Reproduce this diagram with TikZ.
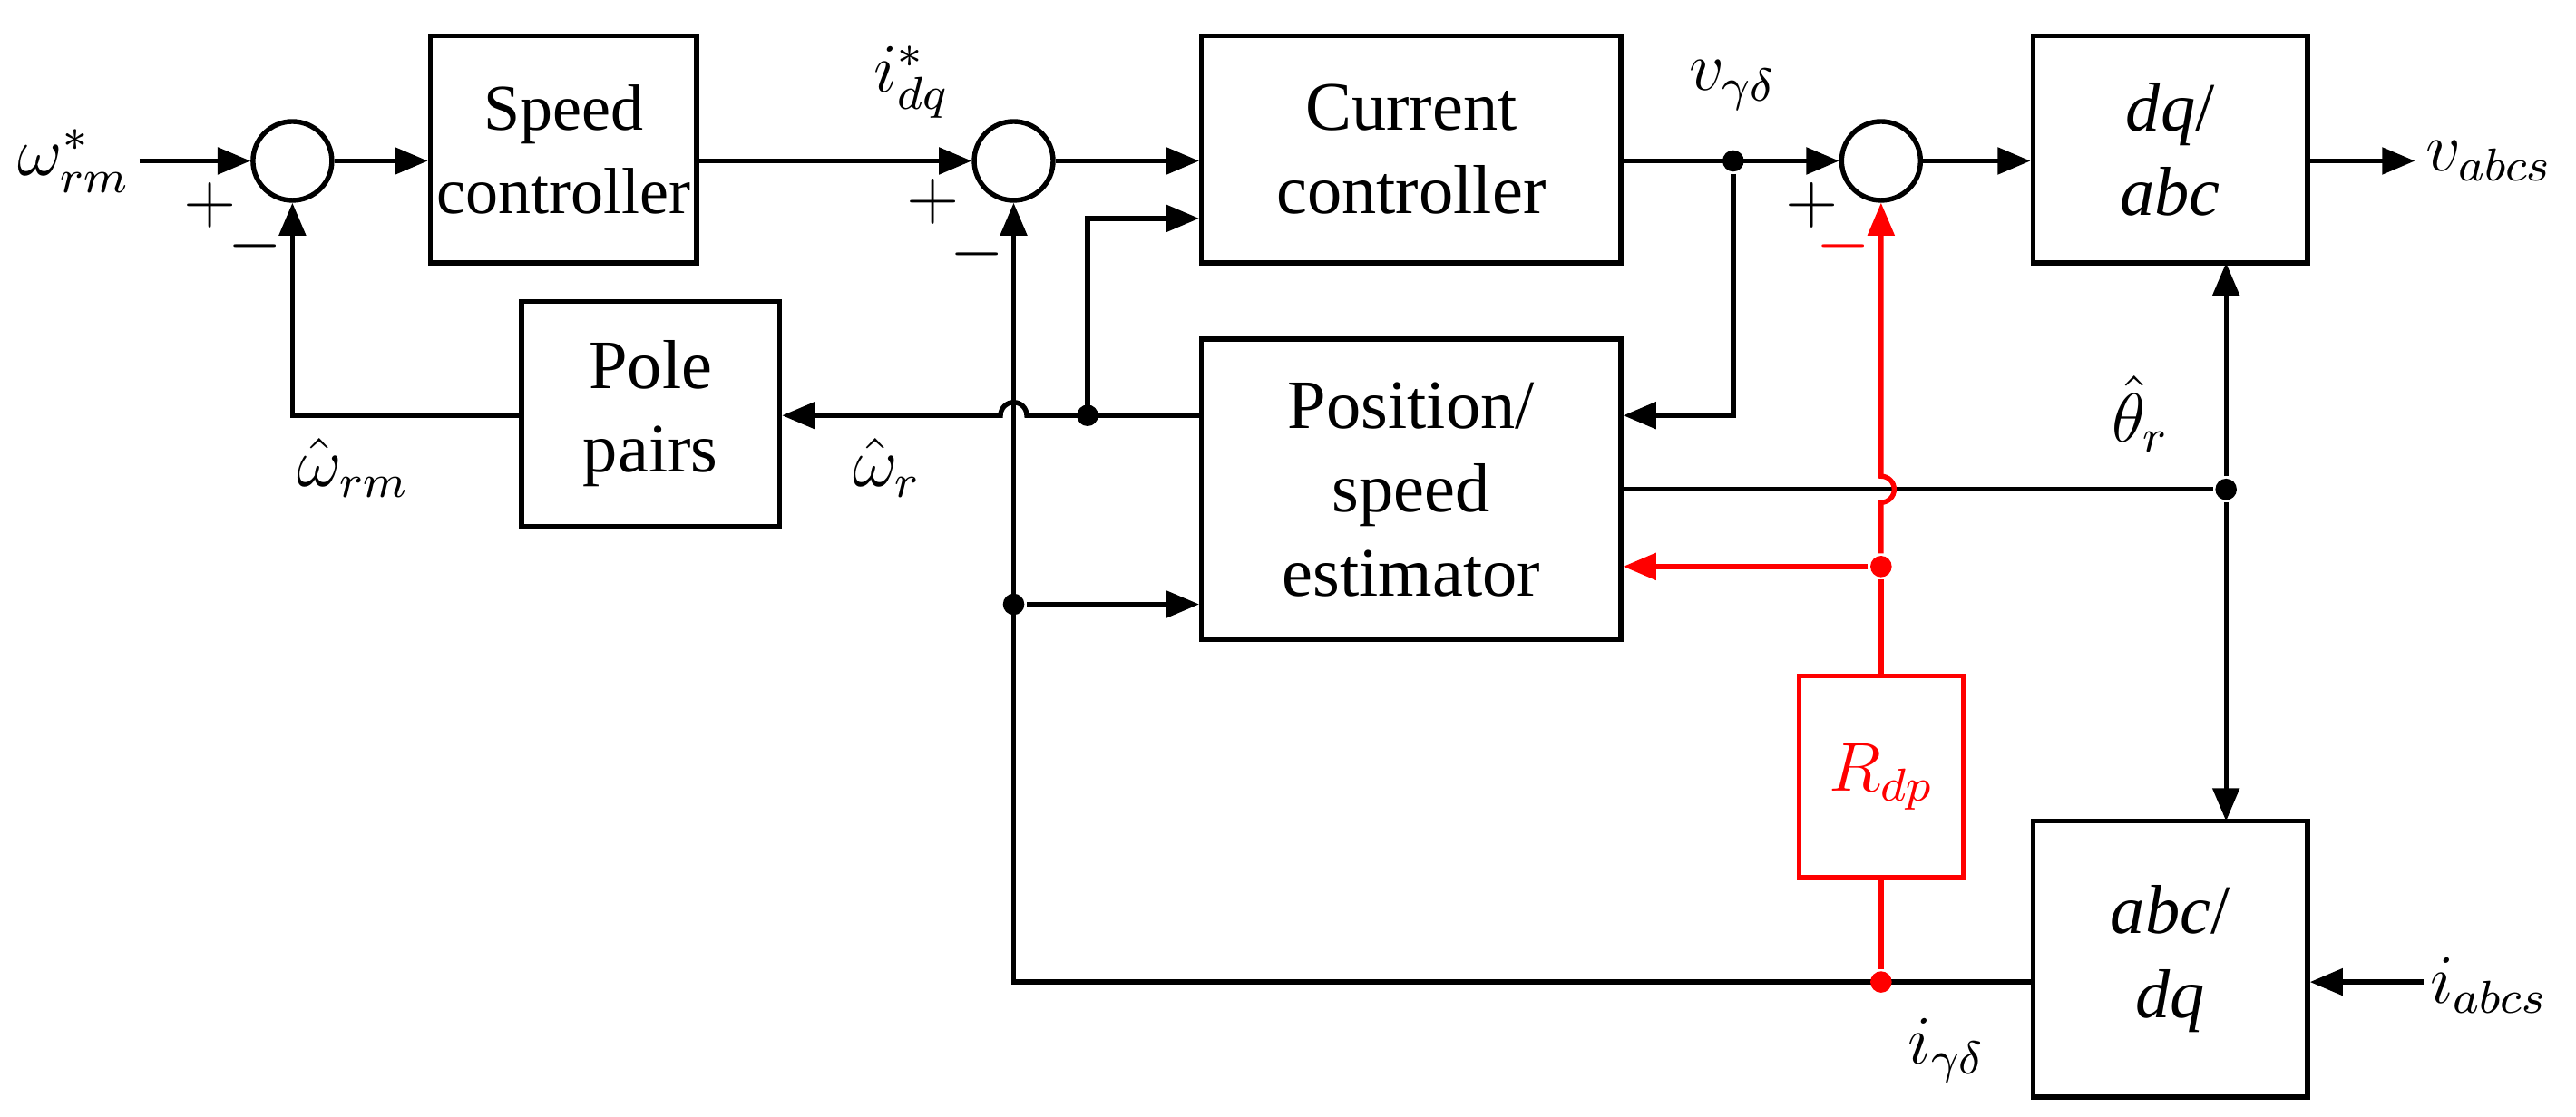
\documentclass[tikz,border=0pt]{standalone}
\usepackage{fontspec}
\setmainfont{Liberation Serif}
\usetikzlibrary{arrows.meta}
\begin{document}
\begin{tikzpicture}[x=0.01cm,y=-0.01cm,line width=0.85pt,
  font=\fontsize{12}{14.5}\selectfont,
  blk/.style={draw,rectangle,align=center,inner sep=0pt},
  sum/.style={draw,circle,minimum size=0.48cm,inner sep=0pt},
  ar/.style={-{Triangle[length=2mm,width=1.6mm]}},
  dot/.style={circle,fill,inner sep=0pt,minimum size=0.13cm},
  red/.style={draw=red,text=red}]
\useasboundingbox (0,0) rectangle (1568,680);
% blocks
\node[blk,minimum width=1.62cm,minimum height=1.38cm,font=\fontsize{11.3}{14.5}\selectfont] (sc) at (343,91) {Speed\\controller};
\node[blk,minimum width=2.55cm,minimum height=1.38cm] (cc) at (859,91) {Current\\controller};
\node[blk,minimum width=1.67cm,minimum height=1.38cm] (dqabc) at (1321,91) {\textit{dq}/\\\textit{abc}};
\node[blk,minimum width=1.57cm,minimum height=1.37cm] (pp) at (396,252) {Pole\\pairs};
\node[blk,minimum width=2.55cm,minimum height=1.83cm] (est) at (859,298) {Position/\\speed\\estimator};
\node[blk,minimum width=1.67cm,minimum height=1.68cm] (abcdq) at (1321,584) {\textit{abc}/\\\textit{dq}};
\node[blk,draw=red,text=red,minimum width=1cm,minimum height=1.23cm] (rdp) at (1145,473) {$R_{dp}$};
% sums
\node[sum] (s1) at (178,98) {};
\node[sum] (s2) at (617,98) {};
\node[sum] (s3) at (1145,98) {};
% labels
\node (wref) at (45,98) {$\omega^{*}_{rm}$};
\coordinate (win) at (85,98);
\node at (128,125) {$+$};
\node at (155,150) {$-$};
\node at (555,50) {$i^{*}_{dq}$};
\node at (568,123) {$+$};
\node at (595,155) {$-$};
\node at (1055,52) {$v_{\gamma\delta}$};
\node at (1103,125) {$+$};
\node[text=red] at (1122,150) {$-$};
\node at (1515,98) {$v_{abcs}$};
\coordinate (vout) at (1470,98);
\node at (1515,600) {$i_{abcs}$};
\coordinate (iin) at (1475,598);
\node at (215,285) {$\hat{\omega}_{rm}$};
\node at (540,285) {$\hat{\omega}_{r}$};
\node at (1303,252) {$\hat{\theta}_{r}$};
\node at (1185,640) {$i_{\gamma\delta}$};
% forward path
\draw[ar] (win) -- (s1);
\draw[ar] (s1) -- (sc.west|-s1);
\draw[ar] (sc.east|-s2) -- (s2);
\draw[ar] (s2) -- (cc.west|-s2);
\draw[ar] (cc.east|-s3) -- (s3);
\draw[ar] (s3) -- (dqabc.west|-s3);
\draw[ar] (dqabc.east|-vout) -- (vout);
\draw[ar] (iin) -- (abcdq.east|-iin);
% estimator speed output
\coordinate (d1) at (662,253);
\node[dot] at (d1) {};
\draw[ar] (est.west|-d1) -- (625,253) arc (0:-180:8) -- (pp.east|-d1);
\draw[ar] (d1) -- (662,133) -- (cc.west|-0,133);
\draw[ar] (pp.west|-d1) -- (178,253) -- (s1);
% v feedback
\node[dot] (d2) at (1055,98) {};
\draw[ar] (d2) -- (1055,253) -- (est.east|-0,253);
% theta
\node[dot] (d3) at (1355,298) {};
\draw (est.east|-d3) -- (d3);
\draw[ar] (d3) -- (1355,160);
\draw[ar] (d3) -- (1355,500);
% current
\node[dot] (d4) at (617,368) {};
\draw[ar] (abcdq.west|-0,598) -- (617,598) -- (s2);
\draw[ar] (d4) -- (est.west|-d4);
% red path
\node[dot,fill=red] (d5) at (1145,598) {};
\node[dot,fill=red] (d6) at (1145,345) {};
\draw[red] (d5) -- (rdp.south);
\draw[red] (rdp.north) -- (d6);
\draw[red,ar] (d6) -- (est.east|-d6);
\draw[red,ar] (d6) -- (1145,306) arc (90:-90:8) -- (s3);
\end{tikzpicture}
\end{document}
